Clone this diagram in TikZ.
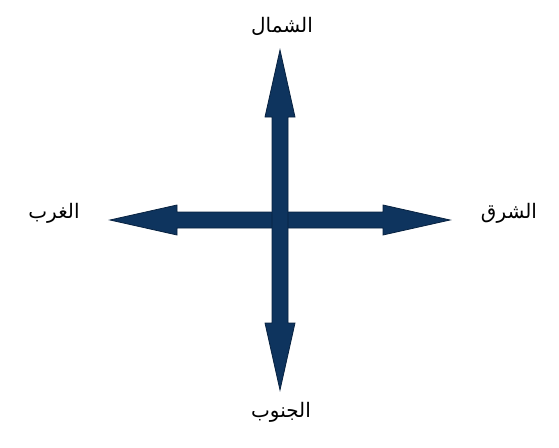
\documentclass[tikz,border=0pt]{standalone}
\usepackage{fontspec}
\newfontfamily\arabicfont[Script=Arabic]{DejaVu Sans}
\TeXXeTstate=1
\definecolor{navy}{RGB}{14,52,94}
\definecolor{navyedge}{RGB}{8,34,64}
\begin{document}
\begin{tikzpicture}[x=1pt,y=-1pt,
  arm/.style={fill=navy,draw=navyedge,line width=0.8pt,line join=miter},
  lbl/.style={font=\arabicfont\fontsize{20}{24}\selectfont,inner sep=0pt,text=black}]
\useasboundingbox (0,0) rectangle (559,447);
% horizontal double arrow
\path[arm] (110,220) -- (177,205) -- (177,212) -- (383,212) -- (383,205) -- (450,220)
  -- (383,235) -- (383,228) -- (177,228) -- (177,235) -- cycle;
% vertical double arrow
\path[arm] (280,50) -- (295,117) -- (288,117) -- (288,323) -- (295,323) -- (280,390)
  -- (265,323) -- (272,323) -- (272,117) -- (265,117) -- cycle;
\coordinate (c) at (280,220);
\node[lbl] (north) at (282,26) {\beginR الشمال\endR};
\node[lbl] (south) at (281,412) {\beginR الجنوب\endR};
\node[lbl] (west) at (54,213) {\beginR الغرب\endR};
\node[lbl] (east) at (509,213) {\beginR الشرق\endR};
\end{tikzpicture}
\end{document}
